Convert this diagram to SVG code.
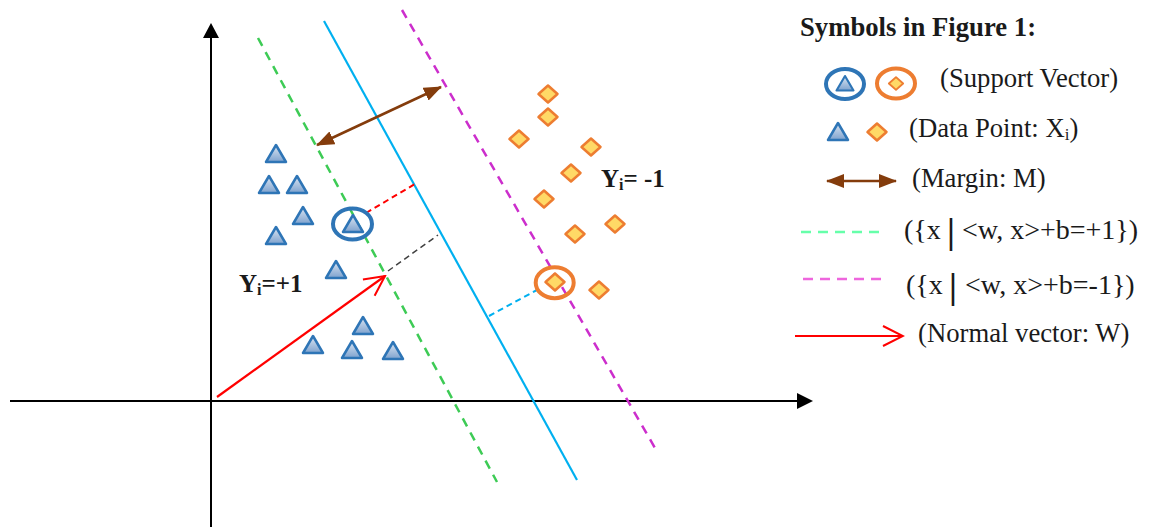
<svg xmlns="http://www.w3.org/2000/svg" xmlns:xlink="http://www.w3.org/1999/xlink" width="1152" height="527" viewBox="0 0 1152 527">
<style>
.t{font-family:"Liberation Serif","Times New Roman",serif;fill:#1a1a1a}
.lg{font-size:26.7px}
.fm{font-size:28px}
.b{font-weight:bold}
.bar{font-size:36px;font-weight:bold}
.tri{fill:url(#tg);stroke:#2E75B6;stroke-width:2.5;stroke-linejoin:round}
.dia{fill:#FFD966;stroke:#ED7D31;stroke-width:2.5;stroke-linejoin:round}
.axis{stroke:#000;stroke-width:2;fill:none}
.svb{fill:none;stroke:#2E75B6;stroke-width:4}
.svo{fill:none;stroke:#ED7D31;stroke-width:4}
</style>
<defs>
<linearGradient id="tg" x1="0" y1="0" x2="0" y2="1">
<stop offset="0" stop-color="#DCE6F2"/>
<stop offset="1" stop-color="#7EA2CE"/>
</linearGradient>
<path id="tri" d="M0,0 L10,17 L-10,17 Z"/>
<path id="dia" d="M0,-8.5 L9.5,0 L0,8.5 L-9.5,0 Z"/>
<marker id="brownHead" viewBox="0 0 18 14" refX="17" refY="7" markerWidth="18" markerHeight="14" markerUnits="userSpaceOnUse" orient="auto-start-reverse">
<path d="M0,0 L18,7 L0,14 Z" fill="#843C0C"/>
</marker>
<marker id="redHead" viewBox="0 0 24 24" refX="22" refY="12" markerWidth="24" markerHeight="24" markerUnits="userSpaceOnUse" orient="auto">
<path d="M2,2 L22,12 L2,22" fill="none" stroke="#FF0000" stroke-width="2"/>
</marker>
</defs>
<rect width="1152" height="527" fill="#fff"/>

<g id="axes">
<line class="axis" x1="211" y1="527" x2="211" y2="37"/>
<path d="M211,23 L219,38 L203,38 Z" fill="#000"/>
<line class="axis" x1="10" y1="401" x2="798" y2="401"/>
<path d="M813,401 L797,393 L797,409 Z" fill="#000"/>
</g>

<g id="connectors">
<line id="plane-pos" x1="258" y1="38" x2="497" y2="482" stroke="#3DCB55" stroke-width="2.5" stroke-dasharray="9,7"/>
<line id="hyperplane" x1="324" y1="21" x2="577" y2="480" stroke="#00B0F0" stroke-width="2.2"/>
<line id="plane-neg" x1="402" y1="10" x2="655" y2="448" stroke="#CC2ECC" stroke-width="2.5" stroke-dasharray="9,7"/>
<line id="margin" x1="317" y1="145" x2="441" y2="87" stroke="#843C0C" stroke-width="2.5" marker-start="url(#brownHead)" marker-end="url(#brownHead)"/>
<line id="dist-sv-pos" x1="366" y1="213" x2="415" y2="184" stroke="#FF0000" stroke-width="2" stroke-dasharray="6,4"/>
<line id="dist-w" x1="388" y1="271" x2="438" y2="235" stroke="#404040" stroke-width="1.5" stroke-dasharray="6,4"/>
<line id="dist-sv-neg" x1="489" y1="316" x2="537" y2="290" stroke="#00B0F0" stroke-width="2" stroke-dasharray="6,4"/>
<line id="normal-w" x1="217" y1="397" x2="385" y2="276" stroke="#FF0000" stroke-width="2.2" marker-end="url(#redHead)"/>
</g>

<g id="class-pos">
<use href="#tri" class="tri" x="276" y="145"/>
<use href="#tri" class="tri" x="269" y="176"/>
<use href="#tri" class="tri" x="297" y="176"/>
<use href="#tri" class="tri" x="303" y="207"/>
<use href="#tri" class="tri" x="276" y="227"/>
<use href="#tri" class="tri" x="336" y="261"/>
<use href="#tri" class="tri" x="363" y="317"/>
<use href="#tri" class="tri" x="313" y="336"/>
<use href="#tri" class="tri" x="352" y="341"/>
<use href="#tri" class="tri" x="393" y="342"/>
</g>
<g id="sv-pos">
<use href="#tri" class="tri" x="353" y="215"/>
<ellipse class="svb" cx="352.5" cy="224" rx="19.5" ry="15.5"/>
</g>

<g id="class-neg">
<use href="#dia" class="dia" x="548" y="94"/>
<use href="#dia" class="dia" x="548" y="117"/>
<use href="#dia" class="dia" x="519" y="139"/>
<use href="#dia" class="dia" x="591" y="147"/>
<use href="#dia" class="dia" x="571" y="173"/>
<use href="#dia" class="dia" x="544" y="199"/>
<use href="#dia" class="dia" x="615" y="224"/>
<use href="#dia" class="dia" x="575" y="234"/>
<use href="#dia" class="dia" x="599" y="290"/>
</g>
<g id="sv-neg">
<use href="#dia" class="dia" x="555" y="282"/>
<ellipse class="svo" cx="554.7" cy="282.7" rx="19" ry="15.5"/>
</g>

<g id="label-pos">
<text class="t b" x="239" y="292" font-size="25">Y<tspan font-size="16" dy="3">i</tspan><tspan dy="-3">=+1</tspan></text>
</g>
<g id="label-neg">
<text class="t b" x="601" y="187" font-size="25">Y<tspan font-size="16" dy="3">i</tspan><tspan dy="-3">= -1</tspan></text>
</g>

<g id="legend">
<text class="t b lg" x="800" y="36">Symbols in Figure 1:</text>
<g id="legend-sv">
<use href="#tri" class="tri" x="845" y="76" transform="translate(845,76) scale(0.85) translate(-845,-76)"/>
<ellipse class="svb" cx="845" cy="84" rx="19" ry="15"/>
<use href="#dia" class="dia" x="0" y="0" transform="translate(896,83.5) scale(0.75)"/>
<ellipse class="svo" cx="896" cy="83.5" rx="19" ry="15"/>
<text class="t lg" x="940" y="87">(Support Vector)</text>
</g>
<g id="legend-data">
<use href="#tri" class="tri" x="838" y="123"/>
<use href="#dia" class="dia" x="877" y="132"/>
<text class="t lg" x="909" y="137">(Data Point: X<tspan font-size="17" dy="3">i</tspan><tspan dy="-3">)</tspan></text>
</g>
<g id="legend-margin">
<line x1="827" y1="181" x2="896" y2="181" stroke="#843C0C" stroke-width="2.5" marker-start="url(#brownHead)" marker-end="url(#brownHead)"/>
<text class="t lg" x="912" y="187">(Margin: M)</text>
</g>
<g id="legend-pos">
<line x1="801" y1="232" x2="881" y2="232" stroke="#66FFAA" stroke-width="2.5" stroke-dasharray="10,7"/>
<text class="t fm" x="904" y="239">({x</text>
<text class="t bar" x="947" y="243">|</text>
<text class="t fm" x="962" y="239">&lt;w, x&gt;+b=+1})</text>
</g>
<g id="legend-neg">
<line x1="803" y1="279" x2="882" y2="279" stroke="#EE66DD" stroke-width="2.5" stroke-dasharray="10,7"/>
<text class="t fm" x="906" y="294">({x</text>
<text class="t bar" x="949" y="298">|</text>
<text class="t fm" x="965" y="294">&lt;w, x&gt;+b=-1})</text>
</g>
<g id="legend-w">
<line x1="795" y1="336" x2="903" y2="336" stroke="#FF0000" stroke-width="2.2" marker-end="url(#redHead)"/>
<text class="t lg" x="918" y="342">(Normal vector: W)</text>
</g>
</g>
</svg>
